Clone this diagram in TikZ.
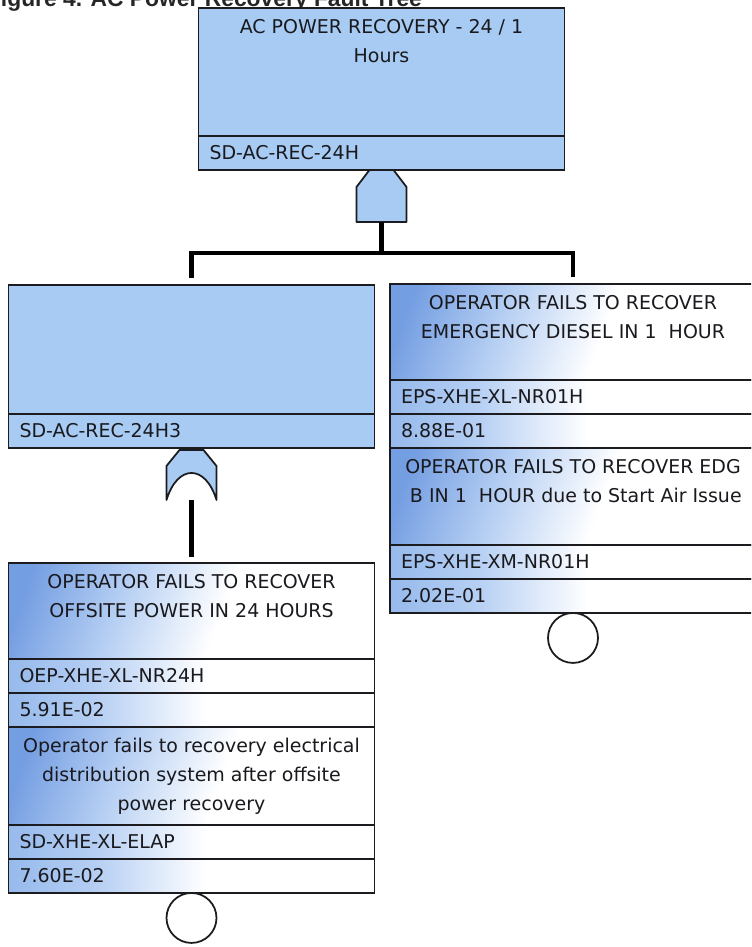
\documentclass[tikz,border=0pt]{standalone}
\usepackage{fontspec}
\setmainfont{DejaVu Sans}
\newfontfamily\titlefont{Liberation Sans}
\usetikzlibrary{positioning, calc}

\definecolor{gatefill}{RGB}{167,203,242}
\definecolor{evblue}{RGB}{116,158,226}
\definecolor{evmid}{RGB}{182,207,243}
\definecolor{rowblue}{RGB}{150,186,236}
\definecolor{edge}{RGB}{28,28,32}
\definecolor{inkgray}{RGB}{25,25,30}

\pgfdeclarehorizontalshading{descfade}{100bp}{color(0bp)=(evblue); color(22bp)=(evblue); color(38bp)=(evmid); color(55bp)=(white); color(100bp)=(white)}
\pgfdeclarehorizontalshading{rowfade}{100bp}{color(0bp)=(rowblue); color(25bp)=(rowblue); color(37bp)=(evmid); color(52bp)=(white); color(100bp)=(white)}

\tikzset{
  andgate/.pic={
    \draw[gate] (-25,0) -- (-25,-35) -- (-12,-52) -- (12,-52) -- (25,-35) -- (25,0) -- cycle;
    \coordinate (-top) at (0,-52);
    \coordinate (-bot) at (0,0);
  },
  orgate/.pic={
    \draw[gate] (-25,0) -- (-25,-34) -- (-12,-50) -- (12,-50) -- (25,-34) -- (25,0)
      .. controls (14,-36) and (-14,-36) .. (-25,0) -- cycle;
    \coordinate (-top) at (0,-50);
    \coordinate (-bot) at (0,0);
  },
}

\begin{document}
\begin{tikzpicture}[
    x=0.02cm, y=-0.02cm,
    every node/.style={outer sep=0pt, text=inkgray, font=\fontsize{10.8}{16.5}\selectfont},
    box/.style={draw=edge, line width=1pt, minimum width=7.32cm, inner sep=0pt},
    gbox/.style={box, fill=gatefill},
    ebox/.style={box, shade, shading=descfade, shading angle=-20},
    erow/.style={box, shade, shading=rowfade},
    idrow/.style={minimum height=0.68cm, text width=6.88cm, inner xsep=0.22cm, align=left},
    desctext/.style={inner sep=0pt, align=center},
    basic/.style={circle, draw=edge, line width=1pt, fill=white, minimum size=1cm, inner sep=0pt},
    gate/.style={draw=edge, line width=1pt, fill=gatefill, line join=round},
    link/.style={line width=2.8pt, draw=black, line join=miter}
    ]
    \path[use as bounding box, clip] (0,0) rectangle (751,947);

    % Title
    \node[anchor=base west, inner sep=0pt, text=black!85,
          font=\titlefont\bfseries\fontsize{13}{15}\selectfont] (figT) at (-13,6)
          {Figure 4. AC Power Recovery Fault Tree};

    % Top gate
    \node[gbox, minimum height=2.56cm, anchor=north] (topD) at (381.5,8) {};
    \node[desctext, below=0.22cm of topD.north] (topT) {AC POWER RECOVERY - 24 / 1\\Hours};
    \node[gbox, idrow, below=0pt of topD] (topI) {SD-AC-REC-24H};
    \pic (gA) at ($(topI.south)+(0,52)$) {andgate};

    % Left gate
    \node[gbox, minimum height=2.58cm, anchor=north] (lgD) at (191.5,285) {};
    \node[gbox, idrow, below=0pt of lgD] (lgI) {SD-AC-REC-24H3};
    \pic (gO) at ($(lgI.south)+(0,52)$) {orgate};

    % Offsite power events
    \node[ebox, minimum height=1.92cm, anchor=north] (oepD) at (191.5,563) {};
    \node[desctext, below=0.22cm of oepD.north] (oepT) {OPERATOR FAILS TO RECOVER\\OFFSITE POWER IN 24 HOURS};
    \node[erow, idrow, below=0pt of oepD] (oepI) {OEP-XHE-XL-NR24H};
    \node[erow, idrow, below=0pt of oepI] (oepP) {5.91E-02};
    \node[ebox, minimum height=1.96cm, below=0pt of oepP] (elapD) {};
    \node[desctext, below=0.22cm of elapD.north] (elapT) {Operator fails to recovery electrical\\distribution system after offsite\\power recovery};
    \node[erow, idrow, below=0pt of elapD] (elapI) {SD-XHE-XL-ELAP};
    \node[erow, idrow, below=0pt of elapI] (elapP) {7.60E-02};
    \node[basic, below=0pt of elapP] (elapC) {};

    % Diesel events
    \node[ebox, minimum height=1.92cm, anchor=north] (edgD) at (573,284) {};
    \node[desctext, below=0.22cm of edgD.north] (edgT) {OPERATOR FAILS TO RECOVER\\EMERGENCY DIESEL IN 1\ \ HOUR};
    \node[erow, idrow, below=0pt of edgD] (edgI) {EPS-XHE-XL-NR01H};
    \node[erow, idrow, below=0pt of edgI] (edgP) {8.88E-01};
    \node[ebox, minimum height=1.94cm, below=0pt of edgP] (airD) {};
    \node[desctext, below=0.22cm of airD.north] (airT) {OPERATOR FAILS TO RECOVER EDG\\\hspace*{0.3em}B IN 1\ \ HOUR due to Start Air Issue};
    \node[erow, idrow, below=0pt of airD] (airI) {EPS-XHE-XM-NR01H};
    \node[erow, idrow, below=0pt of airI] (airP) {2.02E-01};
    \node[basic, below=0pt of airP] (airC) {};

    % Connectors
    \coordinate (split) at ($(gA-bot)+(0,31)$);
    \draw[link] (gA-bot) -- (split);
    \draw[link, shorten <=0.14cm, shorten >=0.14cm] (lgD.north) |- (split) -| (edgD.north);
    \draw[link, shorten >=0.12cm] (gO-bot) -- (oepD.north);
\end{tikzpicture}
\end{document}
